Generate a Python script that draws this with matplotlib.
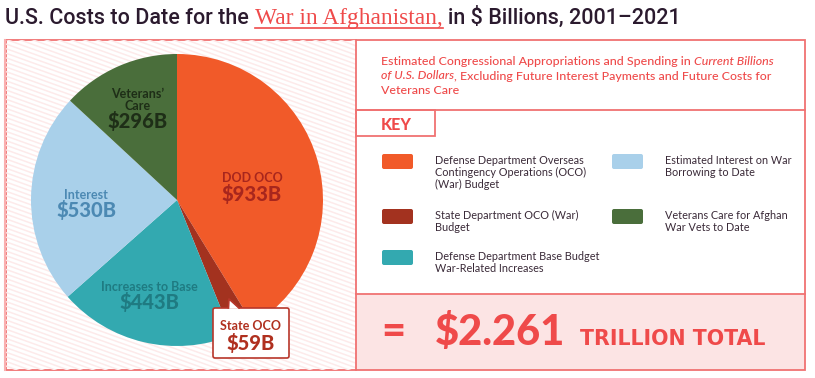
import numpy as np
import matplotlib
matplotlib.use('Agg')
import matplotlib.pyplot as plt
from matplotlib.patches import Rectangle, FancyBboxPatch, Polygon
from matplotlib.collections import LineCollection

plt.rcParams['text.parse_math'] = False

# data
categories = ['DOD OCO', 'State OCO', 'Increases to Base', 'Interest', 'Veterans’\nCare']
values = [933, 59, 443, 530, 296]
value_labels = ['$933B', '$59B', '$443B', '$530B', '$296B']
colors = ['#F15A29', '#A3321F', '#33A9B0', '#A9D0EA', '#4A6E3B']
label_colors = ['#A8261D', '#A8261D', '#1F7B82', '#4C89B3', '#1E2E17']
key_text = ['Defense Department Overseas\nContingency Operations (OCO)\n(War) Budget',
            'State Department OCO (War)\nBudget',
            'Defense Department Base Budget\nWar-Related Increases',
            'Estimated Interest on War\nBorrowing to Date',
            'Veterans Care for Afghan\nWar Vets to Date']
total_text = '$2.261'

RED = '#EF4A4A'
LINE = '#F07272'
DARK = '#2B1A2E'
SANS = 'Lato'

fig = plt.figure(figsize=(8.15, 3.78), dpi=100)
fig.patch.set_facecolor('white')

# background axes in pixel coords (y down)
ax = fig.add_axes([0, 0, 1, 1])
ax.set_xlim(0, 815)
ax.set_ylim(378, 0)
ax.axis('off')

# hatched pie panel
clip = Rectangle((6, 40), 350, 330, transform=ax.transData)
segs = []
for y0 in np.arange(-140, 380, 4.6):
    segs.append([(6, y0), (356, y0 + 350 * 0.36)])
lc = LineCollection(segs, colors='#FDEAEA', linewidths=1.1)
ax.add_collection(lc)
lc.set_clip_path(clip)

# frames
ax.add_patch(Rectangle((356, 294), 449, 76, facecolor='#FCE4E4', edgecolor='none'))
ax.add_patch(Rectangle((5.5, 40), 799.5, 330, fill=False, edgecolor=LINE, lw=1.3))
ax.plot([4.5, 4.5], [40, 370], color='#F9B0B0', lw=1.5)
ax.plot([356, 356], [40, 370], color=LINE, lw=1.3)
ax.plot([356, 805], [110, 110], color=LINE, lw=1.3)
ax.plot([356, 805], [294, 294], color=LINE, lw=1.3)
ax.add_patch(Rectangle((356, 110), 79, 26, fill=False, edgecolor=LINE, lw=1.3))

r = fig.canvas.get_renderer()


def width_px(t):
    bb = t.get_window_extent(renderer=r)
    return bb.width


# title
x = 5
t = ax.text(x, 24, 'U.S. Costs to Date for the', fontsize=15.5, color=DARK,
            family='Roboto', weight='medium', va='baseline')
x += width_px(t) + 6
t2 = ax.text(x, 24, 'War in Afghanistan,', fontsize=16.8, color=RED,
             family='Liberation Serif', va='baseline')
w2 = width_px(t2)
ax.plot([x, x + w2], [28, 28], color=RED, lw=1.2)
x += w2 + 5
ax.text(x, 24, 'in $ Billions, 2001–2021', fontsize=15.5, color=DARK,
        family='Roboto', weight='medium', va='baseline')

# subtitle
sub = [[('Estimated Congressional Appropriations and Spending in ', 'normal'), ('Current Billions', 'italic')],
       [('of U.S. Dollars', 'italic'), (', Excluding Future Interest Payments and Future Costs for', 'normal')],
       [('Veterans Care', 'normal')]]
for i, line in enumerate(sub):
    x = 381
    for s, st in line:
        t = ax.text(x, 65 + i * 14.5, s, fontsize=8.9, color=RED, family=SANS,
                    style=st, weight='medium', va='baseline')
        x += width_px(t)

ax.text(381, 130.5, 'KEY', fontsize=11.5, color=RED, family=SANS, weight='black',
        va='baseline')

# key
key_pos = [(382, 154), (382, 209), (382, 250), (612, 154), (612, 209)]
key_idx = [0, 1, 2, 3, 4]
for (kx, ky), i in zip(key_pos, key_idx):
    ax.add_patch(FancyBboxPatch((kx, ky), 31, 15, boxstyle='round,pad=0,rounding_size=2',
                                facecolor=colors[i], edgecolor='none'))
    ax.text(kx + 53, ky + 1, key_text[i], fontsize=7.8, color='#3A2A38', family=SANS,
            va='top', linespacing=1.1)

# total
ax.text(381, 344, '=', fontsize=30, color=RED, family=SANS, weight='black', va='baseline')
t = ax.text(435, 345, total_text, fontsize=30, color=RED, family=SANS, weight='black',
            va='baseline')
ax.text(580, 345, 'TRILLION TOTAL', fontsize=14.8, color=RED, family='DejaVu Sans',
        weight='bold', va='baseline')

# pie
cx, cy, rad = 177, 200, 146
pax = fig.add_axes([(cx - rad) / 815, (378 - cy - rad) / 378, 2 * rad / 815, 2 * rad / 378])
pax.pie(values, colors=colors, startangle=90, counterclock=False, radius=1,
        wedgeprops=dict(linewidth=0))
pax.set_xlim(-1, 1)
pax.set_ylim(-1, 1)
pax.axis('off')

label_pos = {0: (252, 178), 2: (149, 287), 3: (86, 195), 4: (138, 100)}
for i, (px, py) in label_pos.items():
    lx, ly = (px - cx) / rad, (cy - py) / rad
    pax.text(lx, ly, categories[i], fontsize=9, color=label_colors[i], family=SANS,
             weight='bold', ha='center', va='center', linespacing=0.95)
    off = 21 if i == 4 else 15.5
    pax.text(lx, ly - off / rad, value_labels[i], fontsize=14.5, color=label_colors[i],
             family=SANS, weight='black', ha='center', va='center')

# callout on top
oax = fig.add_axes([0, 0, 1, 1])
oax.set_xlim(0, 815)
oax.set_ylim(378, 0)
oax.axis('off')
oax.add_patch(FancyBboxPatch((213, 308), 76, 50, boxstyle='round,pad=0,rounding_size=2',
                             facecolor='white', edgecolor='#B8362A', lw=1.2))
oax.add_patch(Polygon([(228.5, 308.8), (229, 299), (239, 308.8)], closed=True,
                      facecolor='white', edgecolor='none'))
oax.plot([228.5, 229, 239], [308, 299, 308], color='#B8362A', lw=1.2)
oax.text(251, 326, categories[1], fontsize=9, color='#B0301F', family=SANS,
         weight='bold', ha='center', va='center')
oax.text(251, 343, value_labels[1], fontsize=14.5, color='#B0301F', family=SANS,
         weight='black', ha='center', va='center')

fig.savefig('out.png', dpi=100)
